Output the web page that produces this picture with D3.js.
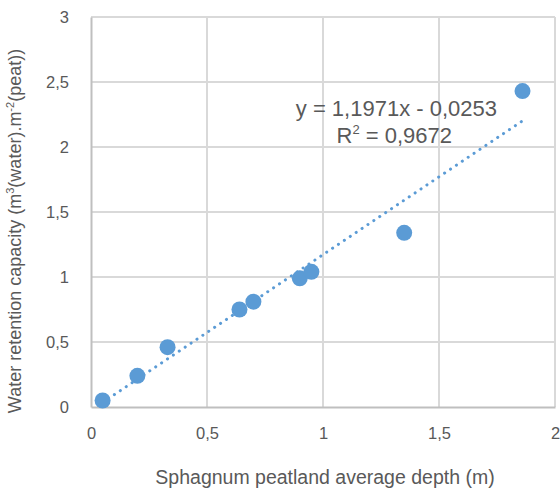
<!DOCTYPE html>
<html>
<head>
<meta charset="utf-8">
<script src="https://cdn.jsdelivr.net/npm/d3@7"></script>
<style>
  body { margin: 0; background: #fff; }
  text { font-family: "Liberation Sans", Arial, sans-serif; fill: #595959; }
</style>
</head>
<body>
<svg id="chart" width="560" height="491"></svg>
<script>
// depth (m) and water retention capacity
const depth = [0.05, 0.20, 0.33, 0.64, 0.70, 0.90, 0.95, 1.35, 1.86];
const capacity = [0.05, 0.24, 0.46, 0.75, 0.81, 0.99, 1.04, 1.34, 2.43];
const xTicks = [0, 0.5, 1, 1.5, 2];
const yTicks = [0, 0.5, 1, 1.5, 2, 2.5, 3];
const slope = 1.1971, intercept = -0.0253;

const margin = { top: 17, right: 5, bottom: 84, left: 91 },
  width = 560 - margin.left - margin.right,
  height = 491 - margin.top - margin.bottom;

const fmt = d => String(d).replace(".", ",");

const svg = d3.select("#chart")
  .append("g")
  .attr("transform", `translate(${margin.left},${margin.top})`);

const x = d3.scaleLinear().domain([0, 2]).range([0, width]);
const y = d3.scaleLinear().domain([0, 3]).range([height, 0]);

// grid
svg.append("g")
  .selectAll("line.h")
  .data(yTicks.slice(1))
  .join("line")
  .attr("x1", 0).attr("x2", width)
  .attr("y1", d => y(d)).attr("y2", d => y(d))
  .attr("stroke", "#d9d9d9").attr("stroke-width", 2);
svg.append("g")
  .selectAll("line.v")
  .data(xTicks.slice(1))
  .join("line")
  .attr("x1", d => x(d)).attr("x2", d => x(d))
  .attr("y1", 0).attr("y2", height)
  .attr("stroke", "#d9d9d9").attr("stroke-width", 2);

// axes
const xAxis = svg.append("g")
  .attr("transform", `translate(0,${height})`)
  .call(d3.axisBottom(x).tickValues(xTicks).tickFormat(fmt).tickSize(0).tickPadding(20));
const yAxis = svg.append("g")
  .call(d3.axisLeft(y).tickValues(yTicks).tickFormat(fmt).tickSize(0).tickPadding(22));
[xAxis, yAxis].forEach(a => {
  a.select(".domain").attr("stroke", "#bfbfbf").attr("stroke-width", 2);
  a.selectAll("text").style("font-size", "16.5px").attr("fill", "#595959");
});

// trendline
const xr = d3.extent(depth);
svg.append("line")
  .attr("x1", x(xr[0])).attr("y1", y(slope * xr[0] + intercept))
  .attr("x2", x(xr[1])).attr("y2", y(slope * xr[1] + intercept))
  .attr("stroke", "#5b9bd5")
  .attr("stroke-width", 3)
  .attr("stroke-linecap", "round")
  .attr("stroke-dasharray", "0.1,7");

// points
svg.selectAll("circle")
  .data(depth.map((d, i) => [d, capacity[i]]))
  .join("circle")
  .attr("cx", d => x(d[0]))
  .attr("cy", d => y(d[1]))
  .attr("r", 8)
  .attr("fill", "#5b9bd5");

// equation
const eq = svg.append("g").style("font-size", "22px");
eq.append("text")
  .attr("x", 406).attr("y", 99)
  .attr("text-anchor", "end")
  .text("y = 1,1971x - 0,0253");
const r2 = eq.append("text")
  .attr("x", 361).attr("y", 126)
  .attr("text-anchor", "end");
r2.append("tspan").text("R");
r2.append("tspan").attr("dy", -9).style("font-size", "13px").text("2");
r2.append("tspan").attr("dy", 9).text(" = 0,9672");

// axis titles
svg.append("text")
  .attr("x", width / 2 + 2).attr("y", height + 77)
  .attr("text-anchor", "middle")
  .style("font-size", "19.5px")
  .text("Sphagnum peatland average depth (m)");

const yt = svg.append("text")
  .attr("transform", `translate(${-70},${height / 2 + 19}) rotate(-90)`)
  .attr("text-anchor", "middle")
  .style("font-size", "18px");
yt.append("tspan").text("Water retention capacity  (m");
yt.append("tspan").attr("dy", -7).style("font-size", "11px").text("3");
yt.append("tspan").attr("dy", 7).text("(water).m");
yt.append("tspan").attr("dy", -7).style("font-size", "11px").text("-2");
yt.append("tspan").attr("dy", 7).text("(peat))");
</script>
</body>
</html>
